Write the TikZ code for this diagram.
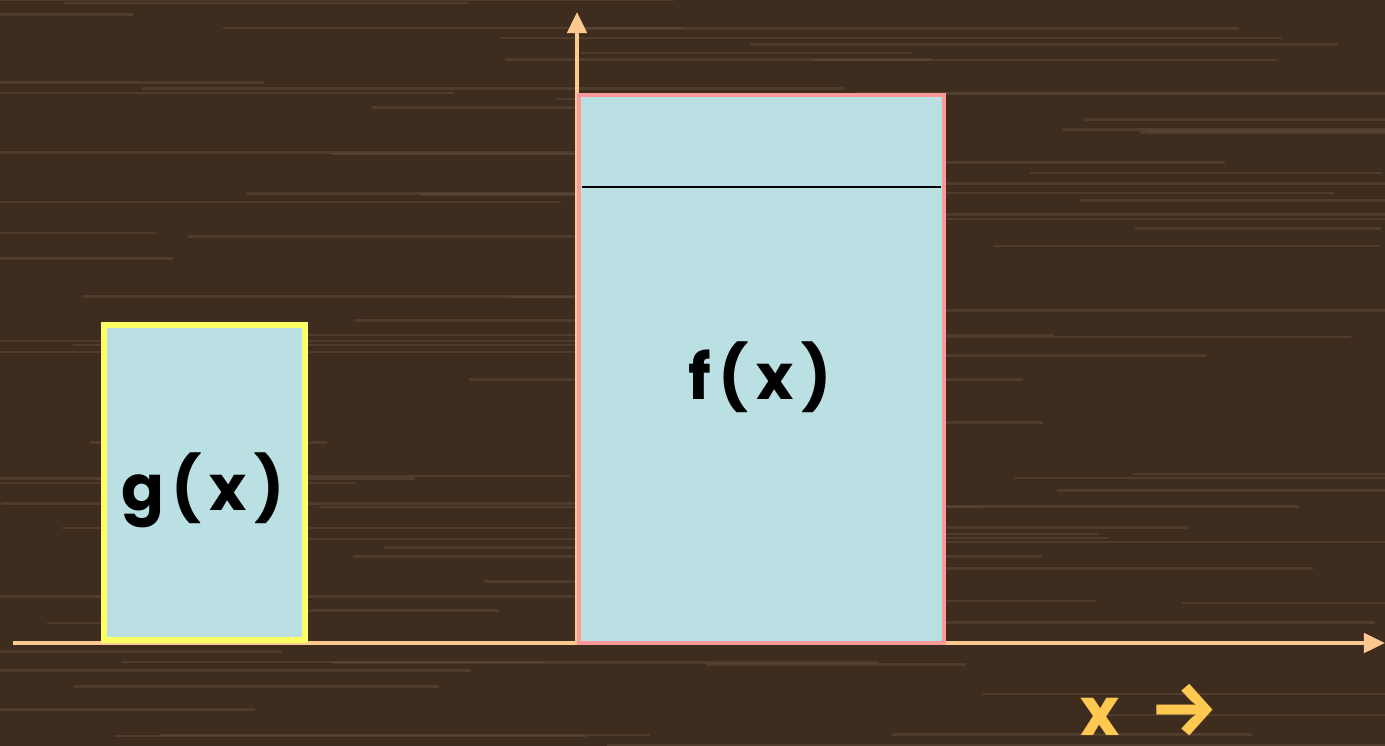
\documentclass[tikz,border=0pt]{standalone}
\usepackage{fontspec}
\setmainfont{Poppins}
\newfontfamily\arrowfont{Fira Sans}
\usepackage{xcolor}
\usetikzlibrary{arrows.meta,positioning,calc}
\definecolor{wood}{HTML}{3E2C1F}
\definecolor{grain}{HTML}{5E4A37}
\definecolor{axiscol}{HTML}{FFC890}
\definecolor{boxfill}{HTML}{BAE0E3}
\definecolor{gline}{HTML}{FFFF66}
\definecolor{fline}{HTML}{FF9999}
\definecolor{labelcol}{HTML}{FFC850}

\begin{document}
\begin{tikzpicture}[
  x=0.02cm, y=-0.02cm,
  every node/.style={inner sep=0pt, font=\fontsize{36}{40}\selectfont\bfseries\addfontfeature{LetterSpace=12}},
  axis/.style={axiscol, line width=2.2pt, -{Triangle[length=12pt,width=11pt]}},
  bar/.style={fill=boxfill}
]
  % background
  \useasboundingbox (0,0) rectangle (1385,746);
  \fill[wood] (0,0) rectangle (1385,746);
  \pgfmathsetseed{7}
  \foreach \i in {1,...,90}{
    \pgfmathsetmacro{\yy}{rnd*746}
    \pgfmathsetmacro{\xa}{rnd*1385-200}
    \pgfmathsetmacro{\ww}{200+rnd*600}
    \draw[grain, opacity=0.55, line width=1.4pt] (\xa,\yy) -- ++(\ww,0);
  }
  % axes
  \coordinate (o) at (577,643);
  \coordinate (xend) at (1385,643);
  \coordinate (xstart) at (13,643);
  \coordinate (ytop) at (577,12);
  \draw[axis] (xstart) -- (xend);
  \draw[axis] (o) -- (ytop);
  % bars
  \draw[bar, draw=gline, line width=3.4pt] (104,325) rectangle (305,640);
  \draw[bar, draw=fline, line width=2.8pt] (579,95) rectangle (944,643);
  \draw[black, line width=0.6pt] (582,187) -- (941,187);
  \node (g) at (203,490) {g(x)};
  \node (f) at (760,377) {f(x)};
  \node[labelcol, anchor=base west, text depth=0pt] (xlab) at (1080,735)
    {\fontsize{38}{40}\selectfont x\hspace{0.45em}{\fontsize{44}{44}\arrowfont\bfseries →}};
\end{tikzpicture}
\end{document}
